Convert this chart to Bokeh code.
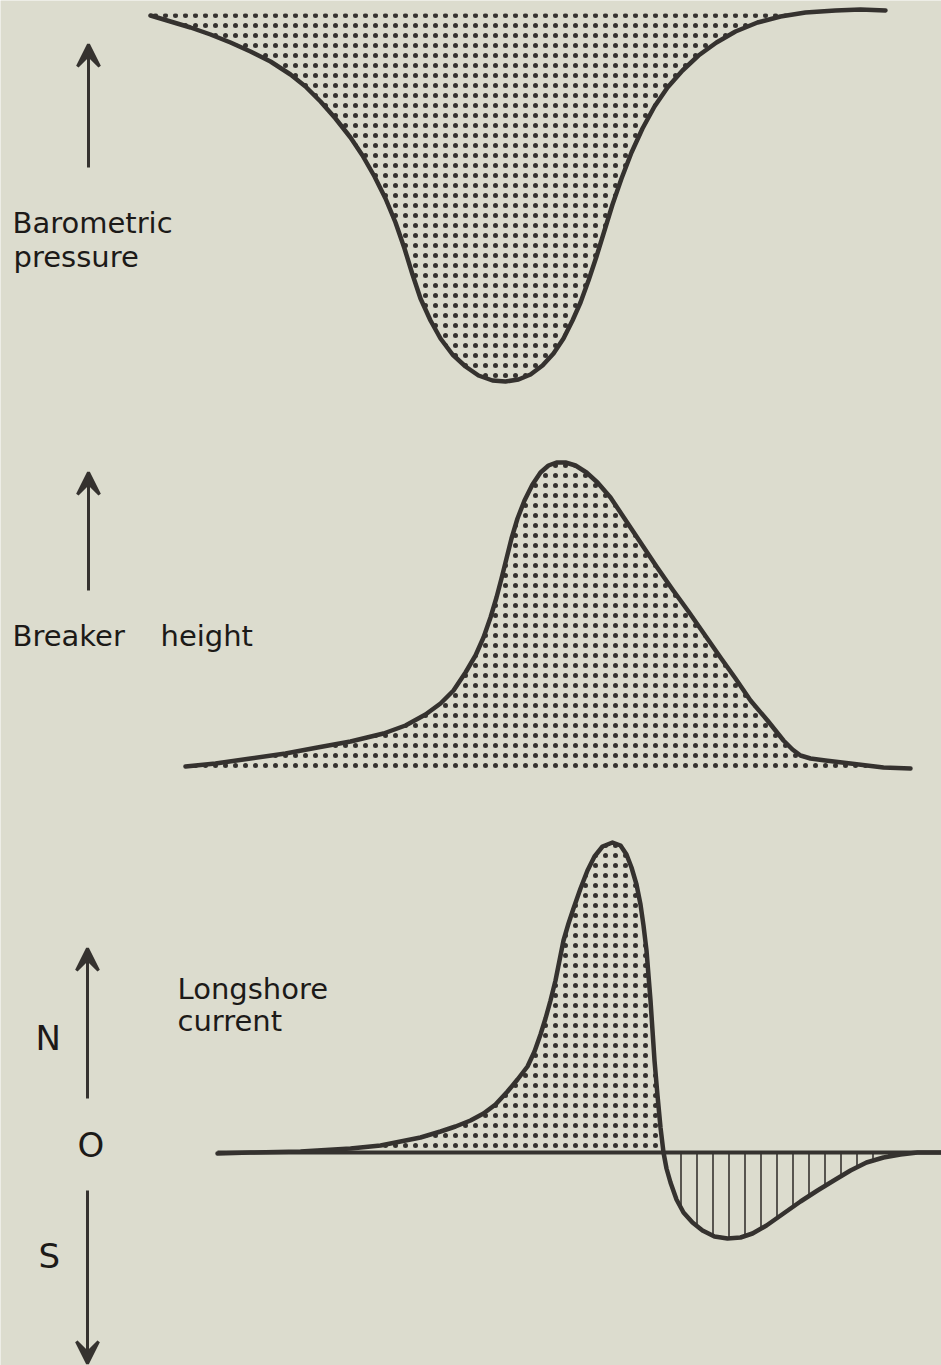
from bokeh.plotting import figure
from bokeh.models import Range1d, Label, Arrow, VeeHead
from bokeh.embed import file_html
from bokeh.resources import INLINE

# ---- data (x: along-shore/time position, values relative to each panel's reference level) ----
press_x = [150, 170, 190, 210, 230, 250, 270, 290, 305, 320, 335, 350, 362, 374, 385, 395, 404, 412, 420,
           430, 440, 452, 465, 478, 492, 505, 518, 530, 542, 553, 563, 572, 580, 588, 596, 604, 612,
           621, 631, 642, 654, 667, 682, 698, 716, 735, 757, 780, 805, 835, 860, 885]
press_v = [-2, -8, -14, -21, -29, -38, -48, -61, -73, -88, -105, -124, -142, -163, -185, -209, -235, -261, -285,
           -307, -325, -341, -353, -362, -367, -368, -366, -361, -352, -340, -325, -307, -289, -267, -243, -217, -191,
           -165, -139, -115, -93, -74, -57, -42, -29, -18, -9, -3, 1, 3, 4, 3]

break_x = [185, 215, 250, 285, 317, 350, 383, 405, 425, 440, 453, 465, 475, 483, 490, 496, 501, 506, 511,
           517, 524, 532, 540, 548, 556, 565, 575, 586, 597, 610, 624, 640, 656, 672, 688, 704, 720,
           735, 750, 767, 783, 792, 800, 810, 825, 850, 883, 910]
break_v = [2, 5, 10, 15, 21, 27, 35, 43, 54, 65, 78, 96, 113, 131, 151, 171, 190, 210, 230,
           250, 268, 284, 296, 303, 306, 306, 303, 296, 286, 271, 250, 226, 202, 179, 157, 134, 111,
           90, 68, 48, 28, 19, 13, 10, 8, 5, 1, 0]

curr_x = [217, 250, 300, 350, 380, 400, 420, 440, 455, 470, 483, 495, 507, 517, 527, 534, 540, 545, 550,
          555, 559, 563, 568, 573, 580, 587, 594, 602, 612, 620, 626, 631, 636, 640, 643, 646, 648,
          650, 652, 654, 657, 660, 663, 666, 670, 676, 683, 692, 702, 714, 727, 740, 752, 766, 783,
          800, 817, 835, 850, 866, 883, 900, 917, 941]
curr_v = [-1, 0, 1, 4, 7, 11, 15, 21, 26, 32, 39, 48, 61, 73, 86, 101, 118, 134, 152,
          172, 192, 212, 229, 244, 264, 282, 296, 306, 310, 307, 298, 285, 268, 248, 227, 202, 177,
          152, 122, 92, 57, 25, 0, -16, -30, -47, -60, -70, -78, -84, -86, -85, -81, -73, -61,
          -49, -38, -27, -18, -10, -5, -2, 0, 0]

BG = "#dcdcce"
INK = "#35322f"
TXT = "#1c1a18"
FONT = "DejaVu Sans"

# vertical placement of each panel's reference level (layout only)
B1, B2, B3 = 1352, 597, 213

p = figure(width=941, height=1365, x_range=Range1d(0, 941), y_range=Range1d(0, 1365),
           output_backend="svg", toolbar_location=None, min_border=0)
p.axis.visible = False
p.grid.visible = False
p.outline_line_color = None
p.background_fill_color = BG
p.border_fill_color = BG

DOT = dict(fill_color=BG, hatch_pattern="dot", hatch_scale=10, hatch_color=INK, hatch_weight=1)


def shift(vals, base):
    return [base + v for v in vals]


def arrow(x, y0, y1):
    p.add_layout(Arrow(end=VeeHead(size=22, fill_color=INK, line_color=INK, line_width=3),
                       x_start=x, y_start=y0, x_end=x, y_end=y1,
                       line_width=3, line_color=INK))


def label(x, y, t, size="29px"):
    p.add_layout(Label(x=x, y=y, text=t, text_font=FONT, text_font_size=size,
                       text_color=TXT, text_baseline="alphabetic"))


def curve(x, v, base):
    p.line(x, shift(v, base), line_color=INK, line_width=4.5, line_cap="round", line_join="round")


# ---- panel 1: barometric pressure ----
p.varea(x=press_x, y1=shift([min(v, 0) for v in press_v], B1), y2=[B1] * len(press_x), **DOT)
curve(press_x, press_v, B1)
arrow(88, B1 - 154, B1 - 31)
label(12, B1 - 209, "Barometric")
label(13, B1 - 243, "pressure")

# ---- panel 2: breaker height ----
p.varea(x=break_x, y1=shift(break_v, B2), y2=[B2 - 4] * len(break_x), **DOT)
curve(break_x, break_v, B2)
arrow(88, B2 + 178, B2 + 296)
label(12, B2 + 133, "Breaker")
label(160, B2 + 133, "height")

# ---- panel 3: longshore current ----
p.varea(x=curr_x, y1=[B3] * len(curr_x), y2=shift([max(v, 0) for v in curr_v], B3), **DOT)
p.varea(x=curr_x, y1=[B3] * len(curr_x), y2=shift([min(v, 0) for v in curr_v], B3), fill_color=BG,
        hatch_pattern="vertical_line", hatch_scale=16, hatch_weight=1.6, hatch_color=INK)
p.segment(x0=[curr_x[0]], y0=[B3], x1=[curr_x[-1]], y1=[B3], line_color=INK, line_width=4)
curve(curr_x, curr_v, B3)
arrow(87, B3 + 54, B3 + 204)
arrow(87, B3 - 38, B3 - 211)
label(177, B3 + 164, "Longshore")
label(177, B3 + 132, "current")
label(35, B3 + 115, "N", "34px")
label(77, B3 + 8, "O", "34px")
label(38, B3 - 103, "S", "34px")

open("out.html", "w").write(file_html(p, INLINE))
